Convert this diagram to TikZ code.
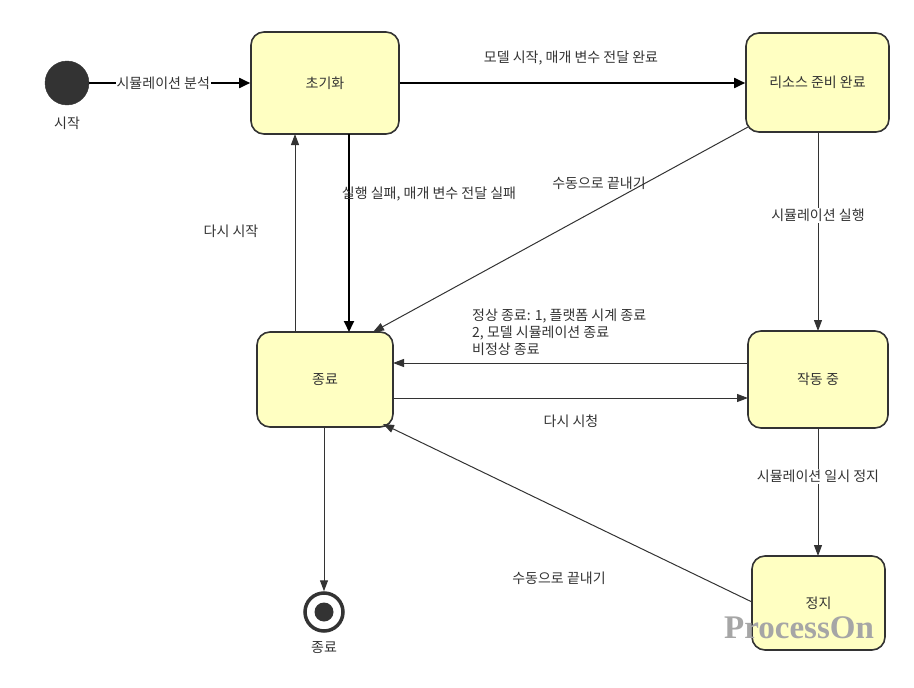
\documentclass[tikz,border=0pt]{standalone}
\usepackage{fontspec}
\setmainfont{Noto Sans CJK KR}
\usetikzlibrary{arrows.meta}
\definecolor{boxfill}{HTML}{FFFFC2}
\definecolor{ink}{HTML}{333333}
\tikzset{
  state/.style={draw=ink, line width=1.6pt, fill=boxfill, rounded corners=13pt, inner sep=0pt, text=ink},
  thickedge/.style={draw=black, line width=1.8pt, -{Triangle[length=11pt,width=10pt]}},
  thinedge/.style={draw=ink, line width=1pt, -{Triangle[length=11pt,width=8pt]}},
  lbl/.style={text=ink, font=\fontsize{14}{16}\selectfont, inner sep=1pt},
  wlbl/.style={lbl, fill=white},
}
\begin{document}
\begin{tikzpicture}[x=1pt,y=-1pt]
\useasboundingbox (0,0) rectangle (914,688);
% states
\node[state, minimum width=148pt, minimum height=102pt, lbl] (init) at (325,83) {초기화};
\node[state, minimum width=143pt, minimum height=99pt, lbl] (ready) at (817.5,82.5) {리소스 준비 완료};
\node[state, minimum width=136pt, minimum height=95pt, lbl] (term) at (325,379.5) {종료};
\node[state, minimum width=140pt, minimum height=97pt, lbl] (run) at (818,379.5) {작동 중};
\node[state, minimum width=133pt, minimum height=94pt, lbl] (stop) at (818.5,603) {정지};
% start / end
\node[circle, fill=ink, draw=ink, minimum size=44pt, inner sep=0pt] (start) at (67,83) {};
\node[lbl] (startlbl) at (67,123) {시작};
\node[circle, draw=ink, line width=3.5pt, fill=white, minimum size=38pt, inner sep=0pt] (end) at (324,612) {};
\node[circle, fill=ink, minimum size=19pt, inner sep=0pt] (endin) at (end.center) {};
\node[lbl] (endlbl) at (324,648) {종료};
% coordinates for edges
\coordinate (t1) at (349,134);
\coordinate (t1b) at (349,332);
\coordinate (r1) at (295,332);
\coordinate (r1b) at (295,134);
\coordinate (m1) at (748,127);
\coordinate (m1b) at (373,332);
\coordinate (s1) at (818,132);
\coordinate (s1b) at (818,331);
\coordinate (n1) at (748,363);
\coordinate (n1b) at (393,363);
\coordinate (w1) at (393,398);
\coordinate (w1b) at (748,398);
\coordinate (p1) at (818,428);
\coordinate (p1b) at (818,556);
\coordinate (q1) at (752,602);
\coordinate (q1b) at (383,424);
\coordinate (e1) at (324,427);
% edges
\draw[thickedge] (start.east) -- node[wlbl, pos=0.46] (l0) {시뮬레이션 분석} (init.west |- start.east);
\draw[thickedge] (init.east) -- (ready.west |- init.east);
\node[lbl] (l1) at (571,58) {모델 시작, 매개 변수 전달 완료};
\draw[thickedge] (t1) -- (t1b);
\node[lbl] (l2) at (429,194) {실행 실패, 매개 변수 전달 실패};
\draw[thinedge] (r1) -- (r1b);
\node[lbl] (l3) at (231,231) {다시 시작};
\draw[thinedge] (m1) -- (m1b);
\node[lbl] (l4) at (599,183) {수동으로 끝내기};
\draw[thinedge] (s1) -- node[wlbl, pos=0.42] (l5) {시뮬레이션 실행} (s1b);
\draw[thinedge] (n1) -- (n1b);
\node[lbl, anchor=north west, align=left, font=\fontsize{14}{17}\selectfont] (l6) at (471,308) {정상 종료: 1, 플랫폼 시계 종료\\2, 모델 시뮬레이션 종료\\비정상 종료};
\draw[thinedge] (w1) -- (w1b);
\node[lbl] (l7) at (571,421) {다시 시청};
\draw[thinedge] (p1) -- node[wlbl, pos=0.38] (l8) {시뮬레이션 일시 정지} (p1b);
\draw[thinedge] (q1) -- (q1b);
\node[lbl] (l9) at (559,578) {수동으로 끝내기};
\draw[thinedge] (e1) -- (end.north);
% watermark
\node[text=black!35, font=\fontspec{Liberation Serif}\bfseries\fontsize{33}{33}\selectfont, inner sep=0pt] (wm) at (799,628) {ProcessOn};
\end{tikzpicture}
\end{document}
